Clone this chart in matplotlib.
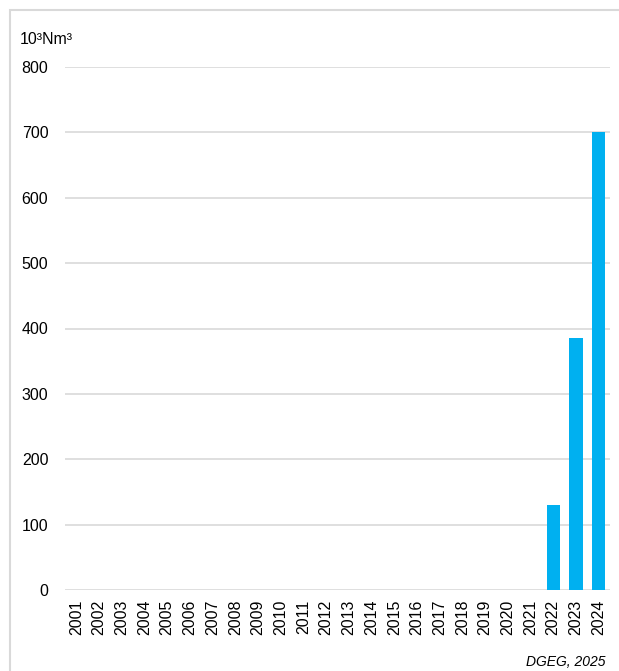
import matplotlib.pyplot as plt
from matplotlib.patches import Rectangle

plt.rcParams['font.family'] = ['Liberation Sans', 'DejaVu Sans']

years = [str(y) for y in range(2001, 2025)]
values = [0] * 21 + [130, 385, 700]
yticks = [0, 100, 200, 300, 400, 500, 600, 700, 800]

W, H = 619, 671
fig = plt.figure(figsize=(W / 100, H / 100), dpi=100)

# light grey frame round the chart
fig.patches.append(Rectangle((10 / W, -0.1), 1.2, (H - 10) / H + 0.1,
                             transform=fig.transFigure, fill=False,
                             edgecolor='#D9D9D9', linewidth=1.5))

ax = fig.add_axes([65 / W, (H - 590) / H, 545 / W, (590 - 67) / H])
x = range(len(years))
ax.bar(x, values, width=0.58, color='#00B0F0', zorder=3)

ax.set_xlim(-0.5, len(years) - 0.5)
ax.set_ylim(0, 800)
ax.set_yticks(yticks)
ax.set_xticks(list(x))
ax.set_xticklabels(years, rotation=90, fontsize=11.5)
ax.tick_params(axis='y', labelsize=11.5, length=0, pad=12)
ax.tick_params(axis='x', length=0, pad=7)
ax.grid(axis='y', color='#D9D9D9', linewidth=1.2, zorder=0)
for s in ax.spines.values():
    s.set_visible(False)

fig.text(20 / W, 1 - 40 / H, '10³Nm³', fontsize=11.5, va='center', ha='left')
fig.text(606 / W, 1 - 662 / H, 'DGEG, 2025', fontsize=10, style='italic',
         va='center', ha='right')

fig.savefig('out.png', dpi=100)
